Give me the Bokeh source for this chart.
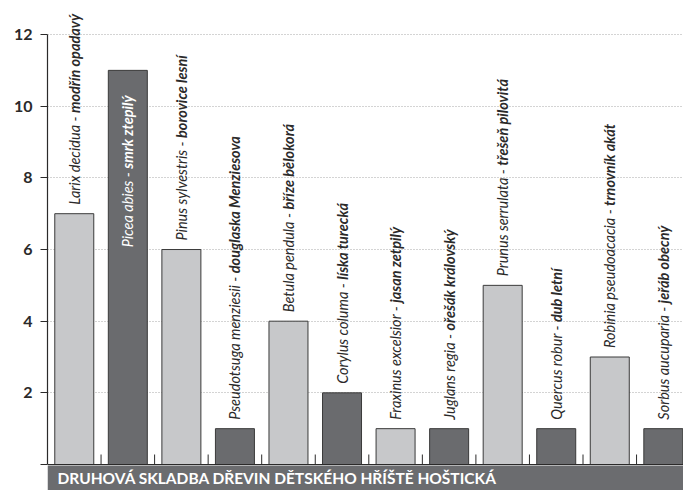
import math
from bokeh.plotting import figure
from bokeh.models import Range1d, FixedTicker, Span, BoxAnnotation, Label, ColumnDataSource
from bokeh.core.properties import value
from bokeh.embed import file_html
from bokeh.resources import INLINE

# ---- data ----
latin = ["Larix decidua", "Picea abies", "Pinus sylvestris", "Pseudotsuga menziesii",
         "Betula pendula", "Corylus columa", "Fraxinus excelsior", "Juglans regia",
         "Prunus serrulata", "Quercus robur", "Robinia pseudoacacia", "Sorbus aucuparia"]
czech = ["modřín opadavý", "smrk ztepilý", "borovice lesní", "douglaska Menziesova",
         "bříze bělokorá", "líska turecká", "jasan zetpilý", "ořešák královský",
         "třešeň pilovitá", "dub letní", "trnovník akát", "jeřáb obecný"]
counts = [7, 11, 6, 1, 4, 2, 1, 1, 5, 1, 3, 1]
shade = ["light", "dark", "light", "dark", "light", "dark",
         "light", "dark", "light", "dark", "light", "dark"]
inside = [False, True, False, False, False, False, False, False, False, False, False, False]
y_ticks = [0, 2, 4, 6, 8, 10, 12]
title_text = "DRUHOVÁ SKLADBA DŘEVIN DĚTSKÉHO HŘÍŠTĚ HOŠTICKÁ"

# ---- style ----
FONT = "Lato"
LABEL_SIZE = 14.5
W, H = 683, 490
LEFT = 47
px_per_unit = 35.83
x_px_per_cat = 53.55
LIGHT, DARK, INK = "#c7c8ca", "#6a6b6e", "#2b2a2a"

frame_w = W - LEFT
y_start = -26 / px_per_unit
y_end = y_start + H / px_per_unit
x_end = frame_w / x_px_per_cat

# ---- text width measurement ----
_w = {}
for ch, v in {"a": .50, "b": .56, "c": .46, "d": .56, "e": .52, "f": .31, "g": .50, "h": .56,
              "i": .24, "j": .24, "k": .50, "l": .24, "m": .84, "n": .56, "o": .55, "p": .56,
              "q": .56, "r": .36, "s": .42, "t": .34, "u": .56, "v": .50, "w": .76, "x": .48,
              "y": .50, "z": .44, " ": .19, "-": .33}.items():
    _w[ch] = v
_base = {"á": "a", "í": "i", "ř": "r", "ý": "y", "ě": "e", "š": "s", "ň": "n", "é": "e", "ú": "u"}


def _fallback(s, size, bold):
    tot = 0
    for ch in s:
        c = _base.get(ch, ch)
        if c.isupper():
            tot += 0.62
        else:
            tot += _w.get(c, 0.52)
    return tot * size * (1.05 if bold else 1.0)


def text_width(s, size, bold):
    try:
        import subprocess
        from PIL import ImageFont
        style = "Bold Italic" if bold else "Italic"
        path = subprocess.run(["fc-match", "-f", "%{file}", f"{FONT}:style={style}"],
                              capture_output=True, text=True, timeout=5).stdout.strip()
        f = ImageFont.truetype(path, size)
        return f.getlength(s)
    except Exception:
        return _fallback(s, size, bold)


p = figure(width=W, height=H, output_backend="svg", toolbar_location=None,
           x_range=Range1d(0, x_end), y_range=Range1d(y_start, y_end),
           min_border_left=LEFT, min_border_right=0, min_border_top=0, min_border_bottom=0)
p.outline_line_color = None
p.background_fill_color = "white"
p.xaxis.visible = False
p.xgrid.visible = False

ya = p.yaxis[0]
ya.ticker = FixedTicker(ticks=y_ticks)
ya.bounds = (0, 12)
ya.major_label_overrides = {0: ""}
ya.major_tick_out = 7
ya.major_tick_in = 0
ya.minor_tick_line_color = None
ya.axis_line_color = INK
ya.major_tick_line_color = INK
ya.axis_line_width = 1.2
ya.major_label_standoff = 8
ya.major_label_text_font = FONT
ya.major_label_text_font_style = "bold"
ya.major_label_text_font_size = "16px"
ya.major_label_text_color = INK

p.ygrid.ticker = FixedTicker(ticks=y_ticks[1:])
p.ygrid.grid_line_color = "#a8a8a8"
p.ygrid.grid_line_dash = "1 2"
p.ygrid.grid_line_width = 1

centers = [i + 0.5 for i in range(len(counts))]
colors = [LIGHT if s == "light" else DARK for s in shade]
p.vbar(x=centers, top=counts, width=39 / x_px_per_cat, bottom=0,
       fill_color=colors, line_color="#3a3a3a", line_width=1)

p.add_layout(Span(location=0, dimension="width", line_color=INK, line_width=1.2))
p.ray(x=list(range(1, len(counts))), y=[0] * (len(counts) - 1), length=10,
      length_units="screen", angle=math.pi / 2, line_color=INK, line_width=1)

# labels
lat_y, cz_y, lat_c = [], [], []
for i, (la, cz, v) in enumerate(zip(latin, czech, counts)):
    l1 = la + " - "
    w1 = text_width(l1, LABEL_SIZE, False)
    w2 = text_width(cz, LABEL_SIZE, True)
    if inside[i]:
        start = v - (25 + w1 + w2) / px_per_unit
        lat_c.append("white")
    else:
        start = v + 9 / px_per_unit
        lat_c.append(INK)
    lat_y.append(start)
    cz_y.append(start + w1 / px_per_unit)

src = ColumnDataSource(dict(x=centers, ly=lat_y, cy=cz_y,
                            lt=[la + " - " for la in latin], ct=czech, col=lat_c))
p.text(x="x", y="ly", text="lt", source=src, angle=math.pi / 2,
       text_align="left", text_baseline="middle", text_color="col",
       text_font=value(FONT), text_font_style="italic", text_font_size=f"{LABEL_SIZE}px")
p.text(x="x", y="cy", text="ct", source=src, angle=math.pi / 2,
       text_align="left", text_baseline="middle", text_color="col",
       text_font=value(FONT), text_font_style="bold italic", text_font_size=f"{LABEL_SIZE}px")

# title bar
p.add_layout(BoxAnnotation(top=-1 / px_per_unit, fill_color="#6b6c6f", fill_alpha=1,
                           line_color=None, level="overlay"))
p.add_layout(Label(x=0, y=(y_start - 1 / px_per_unit) / 2, x_offset=10, text=title_text,
                   text_color="white", text_font=FONT, text_font_style="bold",
                   text_font_size="15.5px", text_baseline="middle", level="overlay"))

open("out.html", "w").write(file_html(p, INLINE))
